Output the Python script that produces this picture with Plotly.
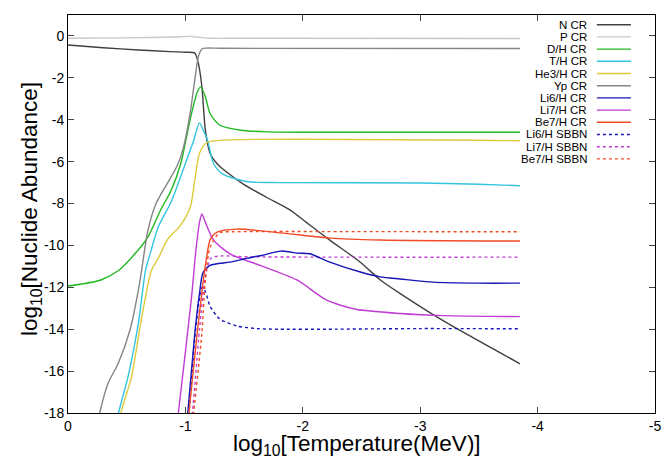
import plotly.graph_objects as go

# log10 T (MeV) and log10 abundance
n_x = [0, -0.3, -0.6, -0.87, -1.0, -1.08, -1.11, -1.14, -1.17, -1.21, -1.27, -1.34, -1.5, -1.69, -1.89, -2.03, -2.23, -2.49, -2.66, -2.83, -3.11, -3.4, -3.85]
n_y = [-0.43, -0.56, -0.67, -0.75, -0.78, -0.82, -1.3, -2.4, -4.5, -5.6, -6.1, -6.45, -7.1, -7.7, -8.3, -8.9, -9.75, -10.8, -11.65, -12.3, -13.3, -14.25, -15.65]

p_x = [0, -0.5, -0.9, -1.05, -1.12, -1.2, -1.5, -3.85]
p_y = [-0.11, -0.09, -0.05, -0.02, -0.07, -0.11, -0.11, -0.12]

dh_x = [0, -0.28, -0.43, -0.57, -0.68, -0.79, -0.88, -0.96, -1.04, -1.10, -1.13, -1.17, -1.21, -1.29, -1.47, -1.7, -2.0, -3.85]
dh_y = [-11.94, -11.65, -11.2, -10.4, -9.6, -8.3, -7.35, -6.1, -4.0, -2.7, -2.43, -2.9, -3.7, -4.25, -4.5, -4.58, -4.6, -4.6]

th_x = [-0.38, -0.43, -0.51, -0.6, -0.66, -0.71, -0.77, -0.88, -0.98, -1.07, -1.12, -1.16, -1.19, -1.24, -1.32, -1.52, -1.8, -3.0, -3.5, -3.85]
th_y = [-19.5, -18, -16.3, -13.7, -11.2, -10.2, -9.1, -7.9, -6.4, -5.0, -4.15, -4.6, -5.0, -6.1, -6.6, -6.95, -7.0, -7.02, -7.08, -7.15]

he3_x = [-0.40, -0.45, -0.54, -0.62, -0.71, -0.77, -0.85, -0.95, -1.04, -1.08, -1.12, -1.18, -1.3, -3.85]
he3_y = [-19.5, -18, -16.3, -13.7, -11.2, -10.6, -9.7, -9.1, -8.2, -6.9, -5.6, -5.1, -4.98, -5.0]

yp_x = [-0.22, -0.27, -0.34, -0.43, -0.53, -0.61, -0.68, -0.75, -0.85, -0.93, -0.98, -1.04, -1.08, -1.11, -1.14, -1.18, -1.3, -3.85]
yp_y = [-19.5, -18, -16.6, -15.6, -14.0, -11.8, -9.3, -8.0, -7.0, -6.2, -5.4, -3.7, -2.1, -1.0, -0.62, -0.58, -0.59, -0.6]

li6_x = [-0.99, -1.02, -1.08, -1.12, -1.15, -1.21, -1.38, -1.5, -1.58, -1.65, -1.72, -1.81, -1.88, -1.95, -2.06, -2.23, -2.49, -2.66, -2.83, -3.11, -3.5, -3.85]
li6_y = [-19.5, -18, -14.2, -12.3, -11.3, -10.95, -10.8, -10.65, -10.55, -10.48, -10.38, -10.27, -10.3, -10.37, -10.4, -10.8, -11.27, -11.5, -11.6, -11.75, -11.8, -11.8]

li7_x = [-0.91, -0.94, -1.05, -1.09, -1.12, -1.14, -1.17, -1.24, -1.38, -1.66, -1.95, -2.2, -2.45, -2.83, -3.2, -3.85]
li7_y = [-19.5, -18, -12.6, -10.2, -8.9, -8.5, -8.9, -9.75, -10.4, -11.0, -11.65, -12.6, -13.05, -13.25, -13.35, -13.4]

be7_x = [-1.0, -1.03, -1.10, -1.15, -1.18, -1.21, -1.27, -1.44, -1.81, -2.23, -2.66, -3.85]
be7_y = [-19.5, -18, -14.2, -11.8, -10.6, -9.75, -9.37, -9.22, -9.4, -9.65, -9.74, -9.79]

li6s_x = [-1.0, -1.03, -1.08, -1.12, -1.14, -1.17, -1.21, -1.29, -1.44, -1.61, -1.8, -2.2, -3.0, -3.85]
li6s_y = [-19.5, -18, -14.4, -12.5, -12.0, -12.2, -12.9, -13.5, -13.85, -13.97, -14.0, -14.0, -13.97, -13.98]

li7s_x = [-1.03, -1.06, -1.12, -1.17, -1.22, -1.32, -1.5, -3.85]
li7s_y = [-19.5, -18, -14, -11.5, -10.6, -10.5, -10.54, -10.56]

be7s_x = [-1.04, -1.07, -1.14, -1.17, -1.21, -1.29, -1.4, -1.6, -3.85]
be7s_y = [-19.5, -18, -14.2, -11.65, -10.1, -9.4, -9.35, -9.34, -9.35]

x_ticks = [0, -1, -2, -3, -4, -5]
x_labels = ["0", "-1", "-2", "-3", "-4", "-5"]
y_ticks = [0, -2, -4, -6, -8, -10, -12, -14, -16, -18]
y_labels = ["0", "-2", "-4", "-6", "-8", "-10", "-12", "-14", "-16", "-18"]

series = [
    ("N CR", n_x, n_y, "#404040", "solid"),
    ("P CR", p_x, p_y, "#c8c8c8", "solid"),
    ("D/H CR", dh_x, dh_y, "#22b822", "solid"),
    ("T/H CR", th_x, th_y, "#33c4e0", "solid"),
    ("He3/H CR", he3_x, he3_y, "#dccb3a", "solid"),
    ("Yp CR", yp_x, yp_y, "#858585", "solid"),
    ("Li6/H CR", li6_x, li6_y, "#1515b8", "solid"),
    ("Li7/H CR", li7_x, li7_y, "#c03cd2", "solid"),
    ("Be7/H CR", be7_x, be7_y, "#f24a26", "solid"),
    ("Li6/H SBBN", li6s_x, li6s_y, "#1515b8", "3px,3px"),
    ("Li7/H SBBN", li7s_x, li7s_y, "#c03cd2", "3px,3px"),
    ("Be7/H SBBN", be7s_x, be7s_y, "#f24a26", "3px,3px"),
]

fig = go.Figure()
draw_order = [0, 1, 2, 3, 4, 5, 10, 7, 6, 9, 8, 11]
for i in draw_order:
    name, xs, ys, col, dash = series[i]
    fig.add_trace(go.Scatter(x=xs, y=ys, mode="lines", name=name,
                             line=dict(color=col, width=1.4, dash=dash, shape="spline", smoothing=0.7)))

# gnuplot style key: text right-aligned, sample line to its right
for i, (name, xs, ys, col, dash) in enumerate(series):
    yy = 0.9756 - i * 0.03065
    fig.add_annotation(x=0.8876, y=yy, xref="paper", yref="paper", text=name, showarrow=False,
                       xanchor="right", yanchor="middle", font=dict(size=11.5, color="black"))
    fig.add_shape(type="line", xref="paper", yref="paper", x0=0.901, x1=0.959, y0=yy, y1=yy,
                  line=dict(color=col, width=1.4, dash=dash))

# axis titles as annotations so they sit where gnuplot put them
fig.add_annotation(x=0.4923, y=-0.08, xref="paper", yref="paper", showarrow=False,
                   text="log<sub>10</sub>[Temperature(MeV)]", font=dict(size=22.5),
                   xanchor="center", yanchor="middle")
fig.add_annotation(x=-0.063, y=0.5126, xref="paper", yref="paper", showarrow=False, textangle=-90,
                   text="log<sub>10</sub>[Nuclide Abundance]", font=dict(size=22.5),
                   xanchor="center", yanchor="middle")

fig.update_xaxes(range=[0, -5], tickvals=x_ticks, ticktext=x_labels, ticks="inside", ticklen=6,
                 showline=True, linecolor="black", mirror="ticks", showgrid=False, zeroline=False,
                 automargin=False, tickfont=dict(size=14))
fig.update_yaxes(range=[-18, 1], tickvals=y_ticks, ticktext=y_labels, ticks="inside", ticklen=6,
                 showline=True, linecolor="black", mirror="ticks", showgrid=False, zeroline=False,
                 automargin=False, tickfont=dict(size=14))
fig.update_layout(width=664, height=465, margin=dict(l=68, r=9, t=15, b=52),
                  plot_bgcolor="white", paper_bgcolor="white", showlegend=False,
                  font=dict(family="Liberation Sans, Arial, sans-serif", color="black"))
fig.write_html("out.html", config={"displayModeBar": False},
               post_script="document.body.style.margin='0';document.body.style.overflow='hidden';")
